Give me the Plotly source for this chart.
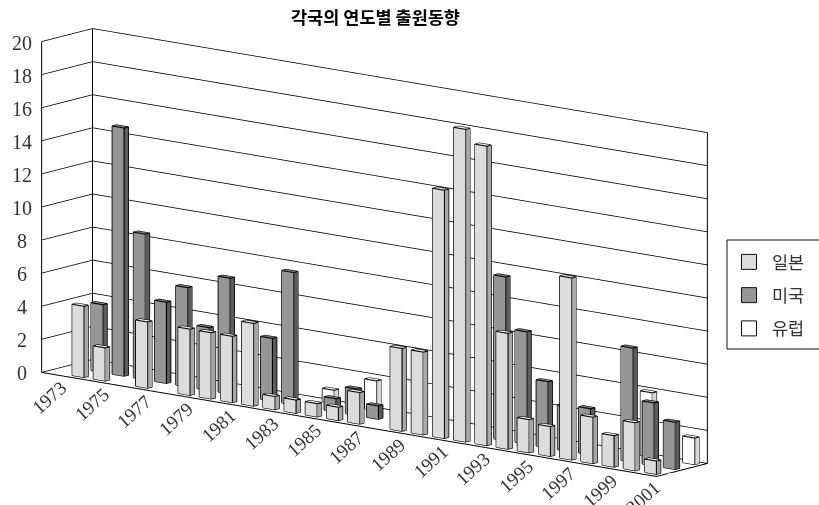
import plotly.graph_objects as go

years = list(range(1973, 2002))
tick_years = list(range(1973, 2002, 2))
z_ticks = list(range(0, 21, 2))

japan = {1974: 4.3, 1975: 2.0, 1977: 4.0, 1979: 4.0, 1980: 4.0, 1981: 4.0, 1982: 5.0,
         1983: 0.8, 1984: 0.8, 1985: 0.8, 1986: 0.8, 1987: 1.9, 1989: 5.0, 1990: 5.0,
         1991: 15.0, 1992: 18.9, 1993: 18.1, 1994: 7.0, 1995: 2.0, 1996: 1.8, 1997: 11.0,
         1998: 2.8, 1999: 1.9, 2000: 2.9, 2001: 0.8}
usa = {1974: 4.1, 1975: 15.0, 1976: 8.8, 1977: 4.9, 1978: 6.0, 1979: 3.8, 1980: 7.0,
       1982: 3.8, 1983: 8.0, 1985: 0.8, 1986: 1.6, 1987: 0.8, 1993: 9.9, 1994: 6.8,
       1995: 4.0, 1996: 2.7, 1997: 2.8, 1999: 6.9, 2000: 3.8, 2001: 2.85}
europe = {1984: 0.8, 1986: 1.8, 1999: 3.9, 2001: 1.6}

names = ["일본", "미국", "유럽"]
series = [japan, usa, europe]
row_depth = [0.10, 0.47, 0.85]
front_col = ["#dcdcdc", "#969696", "#ffffff"]
side_col = ["#a8a8a8", "#5c5c5c", "#d8d8d8"]
top_col = ["#efefef", "#7c7c7c", "#ffffff"]

BAR_OFFSET = 0.2
BAR_WIDTH = 0.56
BAR_DEPTH = 0.085
X0, X1 = years[0] - 0.5, years[-1] + 0.5
Z1 = 20
SERIF = "Liberation Serif"
CJK = "Noto Sans CJK KR"


def bar_mesh(values, depth, front, side, top):
    xs, ys, zs, i, j, k, colors = [], [], [], [], [], [], []
    faces = [((0, 1, 5, 4), front), ((1, 2, 6, 5), side), ((4, 5, 6, 7), top)]
    edges_x, edges_y, edges_z = [], [], []
    for year, value in values.items():
        x0 = year - 0.5 + BAR_OFFSET
        x1 = x0 + BAR_WIDTH
        y0, y1 = depth, depth + BAR_DEPTH
        base = len(xs)
        xs += [x0, x1, x1, x0, x0, x1, x1, x0]
        ys += [y0, y0, y1, y1, y0, y0, y1, y1]
        zs += [0, 0, 0, 0, value, value, value, value]
        for (a, b, c, d), col in faces:
            i += [base + a, base + a]
            j += [base + b, base + c]
            k += [base + c, base + d]
            colors += [col, col]
        for path in [(0, 1, 5, 4, 0), (1, 2, 6, 5), (4, 7, 6)]:
            for p in path:
                edges_x.append(xs[base + p])
                edges_y.append(ys[base + p])
                edges_z.append(zs[base + p])
            edges_x.append(None)
            edges_y.append(None)
            edges_z.append(None)
    mesh = go.Mesh3d(x=xs, y=ys, z=zs, i=i, j=j, k=k, facecolor=colors, flatshading=True,
                     lighting=dict(ambient=1, diffuse=0, specular=0, fresnel=0, roughness=1),
                     hoverinfo="skip", showlegend=False)
    edges = go.Scatter3d(x=edges_x, y=edges_y, z=edges_z, mode="lines",
                         line=dict(color="#000000", width=2.2),
                         hoverinfo="skip", showlegend=False)
    return mesh, edges


fig = go.Figure()
for values, depth, f, s, t in zip(series, row_depth, front_col, side_col, top_col):
    mesh, edges = bar_mesh(values, depth, f, s, t)
    fig.add_trace(mesh)
    fig.add_trace(edges)

# Chart frame: floor edges and the three visible uprights
frame_x = [X0, X1, X1, None, X0, X0, None, X0, X0, None, X1, X1]
frame_y = [0, 0, 1, None, 0, 0, None, 1, 1, None, 1, 1]
frame_z = [0, 0, 0, None, 0, Z1, None, 0, Z1, None, 0, Z1]
fig.add_trace(go.Scatter3d(x=frame_x, y=frame_y, z=frame_z, mode="lines",
                           line=dict(color="#000000", width=2),
                           hoverinfo="skip", showlegend=False))

for name, col in zip(names, front_col):
    fig.add_trace(go.Scatter3d(x=[None], y=[None], z=[None], mode="markers", name=name,
                               legendgroup=name,
                               marker=dict(symbol="square", size=15, color=col,
                                           line=dict(color="#111111", width=1))))

annotations = []
for v in z_ticks:
    annotations.append(dict(x=X0 + 0.01, y=0.001, z=v, text=str(v), showarrow=False,
                            xshift=-19.5, yshift=-1, font=dict(family=SERIF, size=20, color="#333333")))
for yr in tick_years:
    annotations.append(dict(x=yr, y=0, z=0, text=str(yr), showarrow=False, textangle=-42,
                            xshift=-3, yshift=-23, font=dict(family=SERIF, size=19, color="#333333")))

hidden = dict(showticklabels=False, showgrid=False, zeroline=False, showline=False,
              showbackground=False, showspikes=False, ticks="", title=dict(text=""))
L = 6.0
ZOOM = 3.14
fig.update_layout(
    width=819, height=505, margin=dict(l=0, r=0, t=0, b=0),
    paper_bgcolor="white", plot_bgcolor="white", hovermode=False,
    title=dict(text="<b>각국의 연도별 출원동향</b>", x=375.5 / 819, y=1 - 17.5 / 505, xanchor="center",
               yanchor="middle", font=dict(family=CJK, size=17.5, color="black")),
    legend=dict(x=726 / 819, y=1 - 244 / 505, xanchor="left", yanchor="top", bgcolor="rgba(0,0,0,0)",
                itemwidth=36, tracegroupgap=7.5, font=dict(family=CJK, size=17.5, color="#333333")),
    shapes=[dict(type="rect", xref="paper", yref="paper", x0=727 / 819, x1=821 / 819,
                 y0=1 - 240 / 505, y1=1 - 349 / 505, line=dict(color="#111111", width=1),
                 fillcolor="white", layer="between")],
    scene=dict(
        domain=dict(x=[0, 749 / 819], y=[0, 1]),
        xaxis=dict(range=[X0, X1], **hidden),
        yaxis=dict(range=[0, 1], **hidden),
        zaxis=dict(range=[0, Z1], dtick=2, showgrid=True, gridcolor="#000000", gridwidth=1.6,
                   showticklabels=False, zeroline=False, showline=False, showbackground=False,
                   showspikes=False, ticks="", title=dict(text="")),
        aspectmode="manual",
        aspectratio=dict(x=1 * ZOOM, y=0.1018 * ZOOM, z=0.4266 * ZOOM),
        camera=dict(projection=dict(type="orthographic"), up=dict(x=0, y=0, z=1),
                    center=dict(x=0, y=0, z=0),
                    eye=dict(x=0.618 * L, y=-0.759 * L, z=0.208 * L)),
        annotations=annotations,
    ),
)
fig.write_html("out.html")
